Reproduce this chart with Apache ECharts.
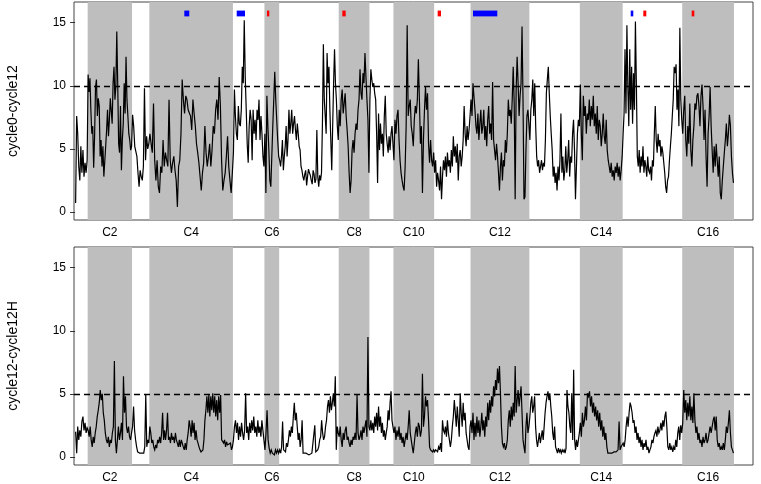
<!DOCTYPE html>
<html><head><meta charset="utf-8">
<script src="https://cdn.jsdelivr.net/npm/echarts@6/dist/echarts.min.js"></script>
<style>html,body{margin:0;padding:0;background:#fff}#chart{width:761px;height:484px}</style>
</head><body><div id="chart"></div>
<script>
// Chromosomes (S. cerevisiae), lengths in kb
const chromNames = ['C1','C2','C3','C4','C5','C6','C7','C8','C9','C10','C11','C12','C13','C14','C15','C16'];
const chromLengthsKb = [230.2, 813.2, 316.6, 1531.9, 576.9, 270.2, 1090.9, 562.6, 439.9, 745.8, 666.8, 1078.2, 924.4, 784.3, 1091.3, 948.1];
const yTickValues = [0, 5, 10, 15];
const thresholdTop = 10;
const thresholdBottom = 5;

// Panel 1: cycle0-cycle12 (values along each chromosome, evenly spaced)
const p1_C1 = [0.7, 7.6, 6.2, 3.6, 2.5, 5.2, 3.1, 4.9, 2.8, 3.9, 3.1, 4.1];
const p1_C2 = [10.9, 9.5, 10.6, 8.0, 6.2, 6.8, 3.5, 6.0, 9.9, 10.5, 7.6, 9.0, 8.4, 4.4, 5.7, 3.6, 5.2, 2.8, 4.0, 5.2, 6.5, 8.1, 6.0, 7.3, 9.0, 8.9, 7.0, 10.2, 11.5, 8.9, 9.9, 14.3, 10.2, 5.4, 4.7, 8.4, 3.3, 5.7, 7.0, 10.2, 7.8, 12.3, 8.9, 7.6, 6.2, 5.7, 4.9, 5.2];
const p1_C3 = [7.7, 6.8, 5.2, 4.8, 4.4, 3.1, 2.0, 3.3, 2.8, 2.5, 3.6, 9.8, 4.1, 6.0, 5.0, 5.4];
const p1_C4 = [6.2, 5.4, 4.7, 8.6, 4.1, 2.5, 4.1, 2.0, 1.5, 3.6, 3.1, 5.7, 3.6, 4.7, 4.1, 3.6, 8.9, 4.1, 3.1, 3.9, 4.4, 3.3, 2.5, 0.4, 3.6, 4.1, 6.2, 10.5, 8.9, 7.8, 9.2, 8.9, 8.1, 8.1, 7.6, 6.5, 8.9, 7.8, 6.8, 5.4, 4.7, 3.9, 2.8, 1.7, 3.1, 3.9, 6.8, 4.7, 3.6, 4.4, 5.4, 3.6, 4.9, 6.8, 6.2, 8.1, 8.9, 7.3, 10.7, 8.4, 4.1, 1.7, 2.5, 3.1, 4.4, 6.0, 3.6, 2.5, 1.5, 3.1];
const p1_C5 = [4.7, 9.7, 7.6, 6.2, 5.7, 8.4, 7.0, 6.8, 8.1, 11.5, 10.2, 15.2, 10.7, 8.1, 5.4, 3.9, 6.8, 8.1, 7.3, 4.1, 8.1, 6.2, 7.3, 5.7, 8.1, 7.3, 8.9, 5.7, 7.6, 6.2, 4.4, 3.6];
const p1_C6 = [6.2, 1.5, 9.2, 6.8, 4.9, 2.5, 2.0, 4.4, 6.8, 8.9, 11.1, 8.9, 7.3, 5.7, 4.4];
const p1_C7 = [4.1, 3.6, 4.4, 5.7, 3.3, 4.4, 5.2, 6.8, 4.4, 5.7, 8.1, 6.2, 7.0, 8.1, 6.2, 7.0, 7.6, 6.5, 5.7, 7.0, 6.2, 5.2, 4.9, 3.6, 3.3, 2.8, 2.5, 3.0, 3.3, 2.1, 2.8, 3.4, 3.1, 2.9, 2.5, 2.2, 3.3, 3.0, 2.3, 2.6, 6.5, 2.8, 2.0, 2.9, 2.5, 3.1, 7.0, 13.3, 8.9, 7.6, 6.2, 12.6, 10.2, 11.5, 8.1, 5.7, 3.3, 6.8, 10.2, 12.9, 10.2, 8.9, 6.8, 5.7];
const p1_C8 = [8.1, 6.8, 8.9, 9.7, 7.8, 8.6, 9.4, 7.6, 6.5, 5.2, 3.1, 1.5, 2.5, 4.9, 5.7, 4.7, 6.2, 7.0, 6.5, 8.1, 8.9, 11.3, 9.4, 8.9, 11.0, 10.2, 12.6, 10.7, 8.9, 7.3, 3.1];
const p1_C9 = [8.9, 11.3, 10.5, 9.9, 10.2, 9.4, 8.9, 6.2, 2.3, 7.8, 4.9, 7.0, 5.4, 6.2, 4.4, 7.6, 9.2, 6.2, 5.4, 4.7, 6.0, 4.9, 6.2, 6.8, 5.4];
const p1_C10 = [4.1, 7.3, 6.2, 7.6, 8.1, 5.7, 4.1, 3.1, 2.5, 2.0, 1.7, 3.6, 6.8, 14.8, 7.6, 8.4, 8.9, 6.8, 6.2, 5.2, 7.3, 8.4, 7.8, 8.9, 12.1, 8.9, 5.4, 6.8, 1.5, 5.7, 8.1, 9.9, 8.1, 9.4, 5.4, 3.9, 5.7, 4.1, 3.6, 4.7];
const p1_C11 = [3.1, 4.1, 2.0, 3.1, 2.5, 1.7, 3.6, 1.0, 2.8, 4.1, 3.3, 4.4, 2.8, 4.7, 3.6, 4.1, 3.1, 4.9, 3.6, 6.0, 4.4, 5.2, 3.9, 5.4, 2.5, 4.4, 4.9, 3.6, 4.4, 5.7, 8.4, 6.2, 5.2, 6.8, 5.7, 6.5, 7.6];
const p1_C12 = [8.9, 7.6, 10.2, 10.3, 8.1, 6.8, 6.2, 7.8, 5.7, 7.0, 8.1, 6.2, 6.8, 8.1, 5.7, 6.8, 5.2, 7.3, 8.4, 6.2, 7.0, 5.7, 10.3, 5.7, 4.9, 4.1, 5.4, 4.4, 3.1, 1.7, 3.6, 4.7, 2.5, 4.1, 3.6, 5.7, 4.7, 6.2, 8.9, 7.6, 8.1, 7.0, 8.9, 11.5, 8.6, 1.0, 9.7, 12.3, 10.2, 7.6, 9.2, 10.2, 14.7, 8.9, 1.0, 1.2, 4.9, 7.6, 8.1, 7.0];
const p1_C13 = [5.7, 8.1, 8.9, 10.5, 7.6, 10.2, 6.8, 4.4, 3.6, 4.1, 3.1, 3.6, 4.1, 3.3, 3.9, 3.6, 5.7, 9.4, 10.5, 11.5, 9.4, 7.6, 6.2, 4.9, 2.8, 3.6, 2.3, 3.1, 1.7, 3.6, 2.5, 4.1, 7.8, 3.1, 4.4, 2.5, 3.3, 5.2, 3.1, 4.1, 5.7, 2.8, 4.4, 3.9, 6.2, 7.3, 4.9, 1.0, 3.6, 6.2, 7.3, 6.8];
const p1_C14 = [10.1, 6.2, 4.1, 9.2, 7.6, 8.4, 6.2, 7.8, 7.3, 8.9, 6.8, 8.4, 7.3, 9.2, 6.8, 7.8, 6.2, 8.4, 5.7, 7.3, 6.8, 5.2, 6.2, 7.8, 6.0, 5.4, 7.3, 4.9, 4.1, 3.6, 3.1, 3.9, 2.8, 3.3, 2.5, 3.6, 3.1, 3.9, 2.8, 3.6, 2.5, 3.3, 4.4];
const p1_C15 = [6.2, 7.8, 12.9, 7.8, 14.8, 9.9, 6.8, 12.9, 8.1, 11.5, 7.0, 11.0, 8.1, 15.1, 10.2, 4.4, 3.6, 4.9, 3.1, 4.4, 3.6, 5.2, 3.1, 4.1, 3.6, 2.8, 4.4, 3.3, 3.1, 3.6, 2.5, 4.1, 3.6, 6.2, 8.4, 5.7, 4.7, 6.2, 5.2, 5.7, 4.4, 5.2, 4.7, 3.9, 3.1, 2.0, 1.5, 2.5, 2.8, 4.1, 5.2, 6.2, 7.6, 8.9, 11.5, 11.0, 11.7, 8.1, 9.7, 6.8, 14.6, 8.9, 7.3];
const p1_C16 = [6.2, 8.1, 9.2, 5.7, 4.4, 6.8, 5.4, 8.6, 4.9, 3.6, 5.7, 6.8, 8.6, 8.1, 9.2, 9.4, 8.4, 6.8, 9.2, 10.1, 8.4, 5.7, 8.1, 4.4, 2.0, 6.2, 7.6, 9.9, 6.8, 4.9, 3.1, 5.2, 3.6, 5.4, 4.1, 2.8, 4.4, 1.5, 1.0, 2.5, 3.6, 4.7, 5.7, 7.0, 5.2, 6.2, 7.7, 6.8, 4.4, 3.1, 2.3];

// Panel 2: cycle12-cycle12H
const p2_C1 = [2.0, 0.3, 2.4, 1.35, 2.1, 1.6, 2.8, 3.2, 2.1, 2.7, 1.9, 2.3];
const p2_C2 = [2.1, 1.6, 2.4, 1.35, 0.8, 1.6, 1.1, 1.9, 2.4, 3.2, 3.7, 4.3, 5.3, 4.5, 5.0, 3.5, 2.9, 1.9, 1.35, 1.1, 1.6, 0.8, 1.35, 1.1, 1.9, 2.4, 7.6, 1.35, 0.3, 1.35, 2.4, 1.35, 1.9, 2.7, 1.35, 6.4, 3.5, 4.8, 2.4, 1.9, 2.4, 1.6, 1.35, 1.9];
const p2_C3 = [2.4, 4.0, 2.1, 1.35, 0.8, 0.4, 0.3, 0.3, 0.16, 0.3, 0.16, 0.3, 0.8, 4.9, 0.8, 1.35, 1.1];
const p2_C4 = [2.4, 1.9, 1.1, 1.35, 0.8, 0.56, 0.95, 0.7, 1.35, 1.1, 1.6, 1.1, 1.9, 3.5, 1.35, 2.1, 1.35, 2.1, 3.5, 1.35, 1.6, 1.1, 1.9, 1.35, 1.6, 1.1, 1.9, 1.35, 1.1, 0.8, 1.35, 0.8, 1.35, 1.1, 0.8, 0.56, 1.1, 0.56, 1.35, 1.9, 2.9, 2.4, 1.6, 2.9, 1.9, 2.7, 1.35, 2.1, 1.35, 1.1, 0.8, 0.56, 0.4, 0.3, 0.56, 1.35, 2.9, 3.7, 4.8, 3.5, 4.9, 3.2, 4.8, 3.7, 5.05, 3.5, 4.8, 3.2, 4.5, 2.9, 4.8, 3.5, 4.9, 1.35, 1.35, 1.1, 1.35, 0.8, 1.2, 0.95, 1.1, 0.8, 1.1, 0.56, 0.8];
const p2_C5 = [1.35, 2.4, 2.9, 1.9, 2.7, 1.35, 2.4, 1.6, 2.7, 1.9, 1.35, 2.1, 5.05, 1.9, 2.4, 1.35, 2.7, 1.9, 2.9, 2.1, 3.2, 1.9, 2.4, 1.6, 2.9, 1.9, 2.4, 1.6, 2.9, 2.1, 1.35];
const p2_C6 = [0.56, 1.9, 3.7, 1.35, 0.7, 0.3, 0.56, 0.3, 0.4, 0.16, 0.56, 0.3, 0.56, 0.3];
const p2_C7 = [0.56, 0.3, 0.8, 2.8, 0.56, 0.7, 0.4, 1.1, 0.8, 1.35, 2.1, 1.6, 2.4, 1.9, 3.2, 4.3, 2.9, 3.5, 2.4, 1.35, 1.9, 0.8, 1.35, 2.9, 0.3, 0.3, 0.16, 0.3, 0.16, 0.3, 0.16, 0.3, 0.16, 0.3, 0.4, 0.3, 2.5, 0.4, 0.3, 0.56, 0.8, 1.35, 1.6, 2.9, 1.9, 1.35, 1.6, 2.4, 2.9, 4.0, 4.5, 3.5, 4.8, 3.7, 4.3, 5.05, 4.0, 6.4, 0.56, 2.4, 1.9];
const p2_C8 = [1.6, 2.4, 1.35, 0.8, 1.9, 1.35, 2.1, 2.4, 1.35, 1.6, 1.1, 0.8, 1.35, 0.95, 1.6, 1.35, 1.9, 1.35, 4.9, 1.9, 1.35, 1.6, 2.1, 1.35, 2.4, 1.9, 2.4, 2.9, 1.6, 9.5, 2.4];
const p2_C9 = [2.1, 2.9, 2.1, 2.7, 1.9, 3.2, 2.4, 3.5, 2.1, 4.0, 2.4, 3.2, 1.9, 2.7, 1.6, 2.1, 1.35, 1.9, 2.4, 3.7, 2.9, 4.3, 5.2, 2.9, 2.4];
const p2_C10 = [1.9, 2.4, 1.35, 2.1, 1.6, 2.4, 1.35, 1.9, 1.1, 1.6, 0.8, 1.35, 1.9, 1.35, 2.4, 3.7, 1.9, 1.35, 0.8, 0.3, 1.1, 1.9, 2.4, 1.6, 2.7, 2.4, 1.6, 2.1, 6.6, 2.4, 3.2, 4.8, 4.0, 4.5, 2.9, 0.8, 0.56, 0.7, 0.4, 0.56];
const p2_C11 = [0.4, 0.56, 0.7, 0.4, 0.8, 0.56, 1.1, 0.4, 2.9, 2.1, 1.9, 2.4, 1.6, 2.9, 1.9, 1.35, 0.8, 1.35, 2.4, 3.2, 4.5, 3.5, 2.4, 4.0, 2.9, 1.6, 5.05, 3.5, 2.4, 4.3, 2.9, 3.5, 1.9, 1.35, 0.8, 0.56, 2.4];
const p2_C12 = [2.9, 1.9, 3.5, 1.35, 2.7, 1.6, 3.2, 1.9, 2.9, 1.6, 2.4, 3.5, 2.1, 2.9, 1.6, 3.2, 2.4, 4.3, 2.9, 4.5, 3.5, 4.8, 4.0, 5.6, 4.8, 6.1, 5.3, 7.0, 5.85, 7.2, 5.05, 2.4, 1.1, 0.8, 1.1, 0.56, 0.8, 1.35, 2.9, 3.7, 2.4, 4.0, 2.9, 4.3, 3.2, 7.2, 3.5, 4.5, 5.3, 4.0, 4.8, 5.6, 3.5, 1.35, 0.8, 0.3, 2.4, 3.5, 1.9, 2.4];
const p2_C13 = [3.2, 4.3, 4.8, 3.5, 4.0, 4.8, 2.4, 1.35, 0.8, 1.35, 1.9, 1.1, 1.6, 2.1, 1.35, 2.4, 3.5, 4.3, 4.8, 5.2, 4.5, 5.05, 4.0, 3.2, 1.9, 1.35, 2.4, 0.8, 0.56, 0.3, 0.7, 0.4, 0.56, 0.3, 0.56, 0.4, 0.56, 0.3, 0.7, 5.3, 4.0, 3.5, 2.4, 1.9, 5.05, 1.35, 6.9, 1.35, 0.56, 1.35, 0.8, 1.35, 1.9];
const p2_C14 = [2.7, 1.6, 3.5, 2.4, 2.9, 4.0, 2.9, 5.05, 4.8, 5.2, 4.0, 4.8, 3.5, 4.3, 3.2, 4.0, 2.9, 3.7, 2.4, 3.5, 2.1, 2.9, 1.6, 2.4, 1.35, 1.9, 0.8, 0.3, 0.4, 0.3, 0.16, 0.3, 0.16, 0.4, 0.3, 0.4, 0.3, 0.56, 2.8, 0.56, 0.8, 0.7];
const p2_C15 = [1.1, 0.8, 1.35, 2.4, 3.2, 2.4, 3.5, 4.3, 4.0, 3.5, 2.7, 2.9, 1.9, 2.4, 1.35, 1.9, 1.1, 1.6, 0.8, 1.35, 0.56, 1.1, 0.8, 1.35, 0.56, 0.8, 0.3, 0.56, 0.8, 1.35, 1.1, 1.6, 1.9, 2.1, 1.6, 2.4, 1.9, 2.1, 2.7, 2.1, 2.9, 2.4, 3.2, 3.6, 2.4, 0.8, 0.56, 1.1, 0.56, 0.8, 0.4, 0.8, 0.56, 1.35, 0.8, 1.9, 2.4, 1.35, 2.5, 1.9];
const p2_C16 = [2.7, 5.3, 3.5, 4.5, 2.9, 4.3, 3.2, 4.8, 2.9, 4.0, 2.7, 5.05, 2.9, 1.9, 2.4, 1.35, 1.9, 1.1, 1.35, 0.8, 1.6, 1.1, 1.35, 1.9, 1.1, 1.35, 1.9, 2.4, 1.9, 2.4, 2.9, 3.2, 2.1, 3.2, 1.35, 0.8, 1.1, 0.56, 0.8, 0.56, 1.1, 0.56, 1.35, 2.4, 1.9, 2.7, 3.7, 1.9, 0.8, 0.56, 0.3];

const panel1Tracks = [p1_C1, p1_C2, p1_C3, p1_C4, p1_C5, p1_C6, p1_C7, p1_C8, p1_C9, p1_C10, p1_C11, p1_C12, p1_C13, p1_C14, p1_C15, p1_C16];
const panel2Tracks = [p2_C1, p2_C2, p2_C3, p2_C4, p2_C5, p2_C6, p2_C7, p2_C8, p2_C9, p2_C10, p2_C11, p2_C12, p2_C13, p2_C14, p2_C15, p2_C16];

// Highlighted regions in panel 1 (genome-wide kb)
const blueRegionsKb = [[2001, 2092], [2961, 3113], [7290, 7735], [10180, 10227]];
const redRegionsKb = [[3516, 3558], [4896, 4958], [6643, 6704], [10410, 10465], [11297, 11345]];
const markerLevel = 15.73;

// ---- build ----
const chromStarts = [];
let acc = 0;
chromLengthsKb.forEach(l => { chromStarts.push(acc); acc += l; });
const chromCenters = chromLengthsKb.map((l, i) => chromStarts[i] + l / 2);

function buildPoints(tracks) {
  const pts = [];
  tracks.forEach((vals, c) => {
    const n = vals.length;
    vals.forEach((v, i) => pts.push([chromStarts[c] + (i + 0.5) * chromLengthsKb[c] / n, v]));
  });
  return pts;
}
const bands = [];
chromNames.forEach((n, i) => { if (i % 2 === 1) bands.push([{ xAxis: chromStarts[i] }, { xAxis: chromStarts[i] + chromLengthsKb[i] }]); });
const evenCenters = chromCenters.filter((c, i) => i % 2 === 1);
function chromLabel(v) {
  for (let i = 0; i < chromCenters.length; i++) if (Math.abs(chromCenters[i] - v) < 1) return chromNames[i];
  return '';
}

const X_MIN = -20, X_MAX = 12420, Y_MIN = -0.64, Y_MAX = 16.64;
const FONT = 'Liberation Sans, Arial, Helvetica, sans-serif';

function xAxisCfg(gi) {
  return {
    type: 'value', gridIndex: gi, min: X_MIN, max: X_MAX,
    axisLine: { show: false }, splitLine: { show: false },
    axisTick: { show: false },
    axisLabel: { customValues: evenCenters, formatter: chromLabel, color: '#000', fontSize: 12, fontFamily: FONT, margin: 7 }
  };
}
function yAxisCfg(gi, name) {
  return {
    type: 'value', gridIndex: gi, min: Y_MIN, max: Y_MAX,
    name: name, nameLocation: 'middle', nameGap: 54, nameRotate: 90,
    nameTextStyle: { color: '#000', fontSize: 14, fontFamily: FONT },
    axisLine: { show: false }, splitLine: { show: false },
    axisTick: { show: true, customValues: yTickValues, length: 5, lineStyle: { color: '#333' } },
    axisLabel: { customValues: yTickValues, color: '#000', fontSize: 12, fontFamily: FONT, margin: 8 }
  };
}
function markerSeries(regions, color) {
  return {
    type: 'custom', xAxisIndex: 0, yAxisIndex: 0, silent: true, z: 5,
    data: regions.map(r => [r[0], r[1], markerLevel]),
    renderItem: (p, api) => {
      const a = api.coord([api.value(0), api.value(2)]);
      const b = api.coord([api.value(1), api.value(2)]);
      return { type: 'rect', shape: { x: a[0], y: a[1] - 2.9, width: Math.max(b[0] - a[0], 2.3), height: 5.8 }, style: { fill: color } };
    }
  };
}
function traceSeries(gi, tracks, thr) {
  return {
    type: 'line', xAxisIndex: gi, yAxisIndex: gi, data: buildPoints(tracks),
    smooth: false,
    showSymbol: false, symbol: 'none', lineStyle: { color: '#000', width: 1.2, join: 'miter', miterLimit: 4 }, z: 3, silent: true,
    markArea: { silent: true, itemStyle: { color: '#bebebe' }, data: bands, z: 1 },
    markLine: { silent: true, symbol: 'none', label: { show: false },
      lineStyle: { color: '#000', type: [6, 4], width: 1.3 }, data: [{ yAxis: thr }] }
  };
}

const chart = echarts.init(document.getElementById('chart'), null, { renderer: 'canvas' });
chart.setOption({
  animation: false,
  backgroundColor: '#fff',
  grid: [
    { left: 74, top: 2, width: 679, height: 218, outerBoundsMode: 'none', containLabel: false, show: true, borderColor: '#444', borderWidth: 1, backgroundColor: 'transparent' },
    { left: 74, top: 247, width: 679, height: 218, outerBoundsMode: 'none', containLabel: false, show: true, borderColor: '#444', borderWidth: 1, backgroundColor: 'transparent' }
  ],
  xAxis: [xAxisCfg(0), xAxisCfg(1)],
  yAxis: [yAxisCfg(0, 'cycle0-cycle12'), yAxisCfg(1, 'cycle12-cycle12H')],
  series: [
    traceSeries(0, panel1Tracks, thresholdTop),
    traceSeries(1, panel2Tracks, thresholdBottom),
    markerSeries(blueRegionsKb, '#0000ff'),
    markerSeries(redRegionsKb, '#ff0000')
  ]
});
</script></body></html>
